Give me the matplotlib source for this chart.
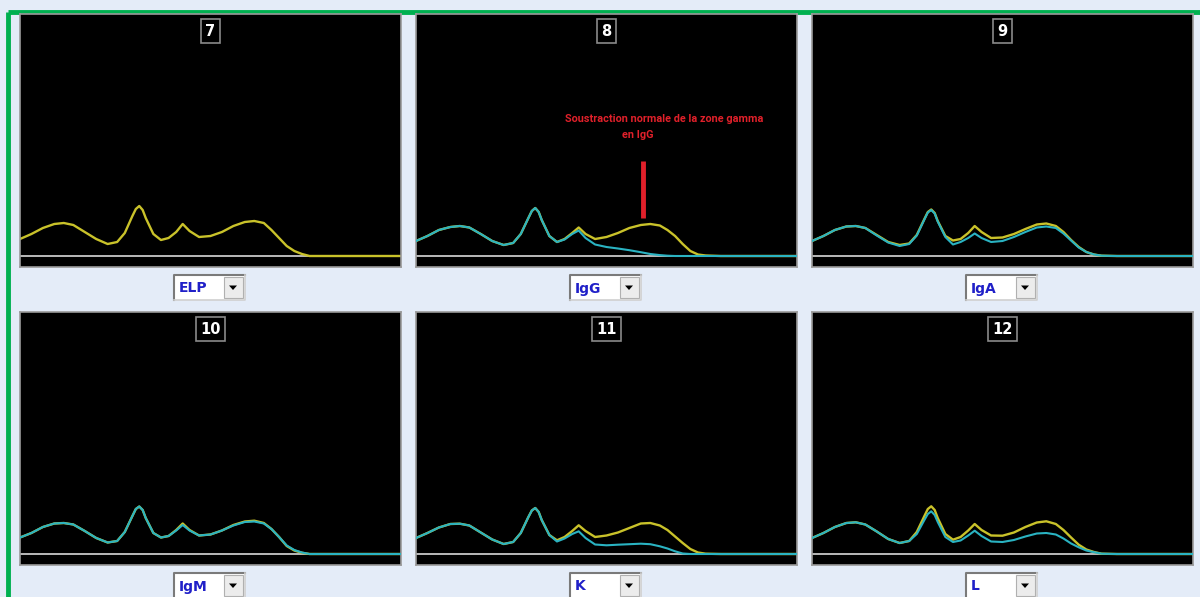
import numpy as np
import matplotlib
matplotlib.use("Agg")
import matplotlib.pyplot as plt
from matplotlib.patches import Rectangle, Polygon

# Data
##############
# position along the gel, in % of the panel width
x_pct = [0, 3, 6, 9, 11.5, 14, 17, 20, 23, 25.5, 27.5, 29.5, 30.4, 31.3, 32.2, 33, 35, 37, 39,
         41, 42.7, 44.5, 47, 50, 53, 56, 59, 61.5, 64, 66, 68, 70, 72, 74, 76, 80, 100]

panel_numbers = ["7", "8", "9", "10", "11", "12"]
panel_labels = ["ELP", "IgG", "IgA", "IgM", "K", "L"]

# reference ELP trace (yellow) of each panel
elp_7 = [17, 22, 28, 32, 33, 31, 24, 17, 12, 14, 23, 40, 47, 50, 46, 38, 22, 16, 18,
         24, 32, 25, 19, 20, 24, 30, 34, 35, 33, 26, 18, 10, 5, 2, 0, 0, 0]
elp_8 = [15, 20, 26, 29, 30, 28.5, 22, 15, 11, 13, 22, 38, 45, 48, 44, 36, 20, 14, 17,
         23, 28.5, 22, 17, 19, 23, 28, 31, 32, 30.5, 26, 20, 12, 5, 1.5, 0.5, 0, 0]
elp_9 = [15, 20, 26, 29.5, 30, 28, 21, 14, 11, 12.5, 21, 37, 44, 46.5, 43, 35, 20, 15.5, 17,
         23, 30, 24, 18, 18.5, 22, 27, 31.5, 32.5, 30, 24, 16, 9, 4, 1.5, 0.3, 0, 0]
elp_10 = [16.5, 21, 27, 30.5, 31, 29.5, 23, 16, 11.5, 13, 22, 38, 45, 47.5, 44, 36, 21, 16.5, 18,
          24, 30.5, 24, 18.5, 19.5, 23.5, 29, 32.5, 33.3, 31, 25, 17, 8, 3.5, 1.2, 0, 0, 0]
elp_11 = [16, 21, 26.5, 30, 30.3, 28.5, 21.5, 14.5, 10, 12, 21, 37, 43.5, 46, 42, 34, 19, 13.7, 17,
          23, 28.7, 23, 17, 18.5, 21.5, 26, 30.5, 31, 28.5, 24, 17.5, 11, 5, 1.5, 0.3, 0, 0]
elp_12 = [16, 21, 27, 31, 31.7, 29.5, 22.5, 15, 11, 13, 22, 38, 45, 47.7, 44, 36, 20, 14.3, 17,
          23.5, 30, 24, 18.5, 18.3, 21.5, 27, 31.5, 32.7, 30, 24, 16.5, 9.3, 4.5, 2, 0.3, 0, 0]

# immunosubtraction trace (cyan) of each panel
sub_8 = [15, 20, 26, 29, 30, 28.5, 22, 15, 11, 13, 22, 38, 45, 48, 44, 36, 20, 14, 16.5,
         22, 25.5, 18, 11.5, 9, 7.5, 5.8, 3.8, 2, 0.9, 0.3, 0, 0, 0, 0, 0, 0, 0]
sub_9 = [15, 20, 26, 29.5, 30, 28, 20.5, 13.5, 10, 12, 20.5, 36.5, 43.5, 46, 42.5, 34.5, 19, 11.5, 14,
         18, 22.5, 18, 14, 15, 19, 24, 28.5, 29.5, 28, 22.5, 15.5, 8.5, 4, 1.5, 0.3, 0, 0]
sub_10 = [16.5, 21, 27, 30.5, 31, 29.5, 23, 16, 11.5, 13, 22, 38, 45, 47.5, 44, 36, 21, 16.5, 18,
          23.5, 29, 23.5, 18.5, 19.5, 23.5, 28.5, 32, 32.5, 30.5, 25, 17, 8.5, 4, 1.5, 0, 0, 0]
sub_11 = [16, 21, 26.5, 30, 30.3, 28.5, 21.5, 14.5, 10, 12, 21, 37, 43.5, 46, 42, 34, 19, 12.5, 15.5,
          20, 22.7, 16, 9.5, 8.7, 9.3, 9.8, 10.3, 9.8, 7.7, 5.5, 2.7, 0.5, 0, 0, 0, 0, 0]
sub_12 = [16, 21, 27, 31, 31.7, 29.5, 22.5, 15, 11, 13, 20, 34, 40, 42.7, 39, 32, 17, 12, 13.5,
          18.5, 23.3, 18, 12.5, 12, 14, 17.5, 20.5, 21, 19.5, 15.5, 10.5, 6.7, 3.5, 1.8, 0.3, 0, 0]

elp_traces = [elp_7, elp_8, elp_9, elp_10, elp_11, elp_12]
sub_traces = [None, sub_8, sub_9, sub_10, sub_11, sub_12]

note_text = "Soustraction normale de la zone gamma"
note_text2 = "en IgG"

## Layout (pixels)
##############
W, H = 1200, 597
col_x = [20, 416, 812]
row_y = [14, 312]
pw, ph = 381, 253
below = 11  # pixels under the baseline

bg = "#e4ecf8"
yellow = "#c9c22a"
cyan = "#2ab3c2"

fig = plt.figure(figsize=(W / 100, H / 100), dpi=100, facecolor=bg)

# overlay in pixel coordinates for frame + dropdowns
ov = fig.add_axes([0, 0, 1, 1], zorder=0)
ov.set_xlim(0, W)
ov.set_ylim(H, 0)
ov.axis("off")
ov.plot([8, 8], [12, H], color="#00b050", lw=3.5, solid_capstyle="butt")
ov.plot([8, W], [12, 12], color="#00b050", lw=3.5, solid_capstyle="butt")

for i in range(6):
    r, c = divmod(i, 3)
    x0, y0 = col_x[c], row_y[r]
    ax = fig.add_axes([x0 / W, 1 - (y0 + ph) / H, pw / W, ph / H], zorder=2)
    ax.set_facecolor("black")
    ax.set_xlim(0, 100)
    ax.set_ylim(-below, ph - below)
    ax.set_xticks([])
    ax.set_yticks([])
    for s in ax.spines.values():
        s.set_color("#9a9a9a")
        s.set_linewidth(1.2)
    ax.axhline(0, color="#c8c8c8", lw=1.3, zorder=1)
    ax.plot(x_pct, elp_traces[i], color=yellow, lw=1.7, zorder=2)
    if sub_traces[i] is not None:
        ax.plot(x_pct, sub_traces[i], color=cyan, lw=1.5, zorder=3)
    ax.text(50, ph - below - 17, panel_numbers[i], color="white", fontsize=10.5,
            fontweight="bold", ha="center", va="center",
            bbox=dict(boxstyle="square,pad=0.3", fc="black", ec="#8a8a8a", lw=1.2))

    if i == 1:
        ax.plot([59.6, 59.6], [38, 95], color="#e0202a", lw=3.5, solid_capstyle="butt", zorder=4)
        ax.text(65.2, 137, note_text, color="#e0202a", fontsize=7.8, ha="center", va="center",
                family="Roboto", fontweight="bold")
        ax.text(58.2, 121, note_text2, color="#e0202a", fontsize=7.8, ha="center", va="center",
                family="Roboto", fontweight="bold")

    # dropdown
    cx = x0 + pw / 2
    dx0, dx1 = cx - 37, cx + 34
    dy0 = y0 + ph + 8
    dy1 = dy0 + 25
    ov.add_patch(Rectangle((dx0, dy0), dx1 - dx0, dy1 - dy0, fc="white", ec="none"))
    ov.plot([dx0, dx0, dx1], [dy1, dy0, dy0], color="#7a7a7a", lw=1.5)
    ov.plot([dx0, dx1, dx1], [dy1, dy1, dy0], color="#d0d0d0", lw=1.2)
    bx0 = dx1 - 21
    ov.add_patch(Rectangle((bx0, dy0 + 2), 19, dy1 - dy0 - 4, fc="#ececec", ec="#b0b0b0", lw=0.8))
    bcx, bcy = bx0 + 9.5, (dy0 + dy1) / 2
    ov.add_patch(Polygon([[bcx - 4, bcy - 2], [bcx + 4, bcy - 2], [bcx, bcy + 2.5]], fc="black", ec="none"))
    ov.text(dx0 + 5, bcy + 1, panel_labels[i], color="#2020c8", fontsize=10, fontweight="bold",
            ha="left", va="center")

fig.savefig("out.png", dpi=100, facecolor=bg)
